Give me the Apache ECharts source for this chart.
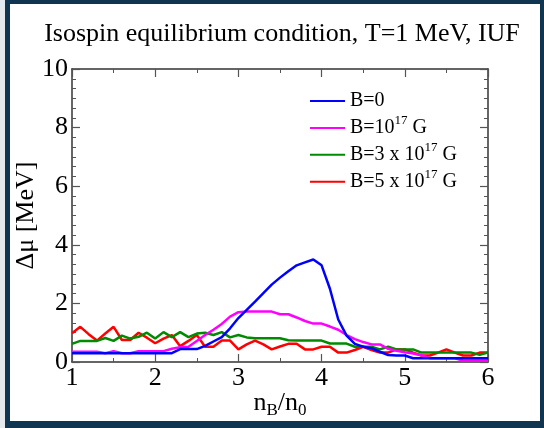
<!DOCTYPE html>
<html>
<head>
<meta charset="utf-8">
<script src="https://cdn.jsdelivr.net/npm/echarts@6/dist/echarts.min.js"></script>
<style>
html,body{margin:0;padding:0;background:#fff;}
#chart{width:544px;height:428px;}
</style>
</head>
<body>
<div id="chart"></div>
<script>
// x grid n_B/n_0
const xValues = [1.0,1.1,1.2,1.3,1.4,1.5,1.6,1.7,1.8,1.9,2.0,2.1,2.2,2.3,2.4,2.5,2.6,2.7,2.8,2.9,3.0,3.1,3.2,3.3,3.4,3.5,3.6,3.7,3.8,3.9,4.0,4.1,4.2,4.3,4.4,4.5,4.6,4.7,4.8,4.9,5.0,5.1,5.2,5.3,5.4,5.5,5.6,5.7,5.8,5.9,6.0];
const seriesNames = ['B=0','B=10^17 G','B=3 x 10^17 G','B=5 x 10^17 G'];
const b0 = [0.30,0.30,0.30,0.30,0.30,0.30,0.30,0.30,0.30,0.30,0.30,0.30,0.30,0.44,0.44,0.44,0.55,0.70,0.85,1.15,1.50,1.78,2.06,2.35,2.64,2.88,3.10,3.30,3.40,3.50,3.30,2.50,1.45,0.90,0.62,0.52,0.47,0.35,0.24,0.22,0.22,0.13,0.13,0.13,0.13,0.13,0.13,0.13,0.13,0.13,0.13];
const b1 = [0.35,0.35,0.35,0.35,0.30,0.37,0.30,0.30,0.37,0.37,0.37,0.37,0.45,0.50,0.52,0.72,0.92,1.10,1.30,1.55,1.70,1.72,1.72,1.72,1.72,1.63,1.63,1.52,1.40,1.31,1.31,1.21,1.10,0.92,0.78,0.68,0.60,0.60,0.45,0.38,0.33,0.29,0.23,0.13,0.13,0.13,0.13,0.05,0.05,0.05,0.05];
const b3 = [0.62,0.72,0.72,0.72,0.82,0.72,0.90,0.80,0.86,1.00,0.80,1.02,0.85,1.02,0.85,0.97,1.00,0.92,1.02,0.84,0.92,0.84,0.81,0.81,0.81,0.81,0.74,0.73,0.73,0.73,0.73,0.63,0.63,0.63,0.52,0.52,0.52,0.43,0.52,0.43,0.43,0.43,0.32,0.32,0.32,0.32,0.32,0.32,0.32,0.25,0.32];
const b5 = [0.98,1.20,0.95,0.73,0.97,1.20,0.75,0.75,1.00,0.83,0.64,0.80,0.92,0.54,0.72,0.92,0.52,0.52,0.73,0.73,0.43,0.60,0.73,0.60,0.43,0.53,0.62,0.62,0.43,0.43,0.52,0.52,0.32,0.32,0.41,0.52,0.41,0.32,0.32,0.43,0.43,0.32,0.22,0.22,0.32,0.43,0.32,0.22,0.22,0.32,0.32];
const xTicks = [1,2,3,4,5,6];
const yTicks = [0,2,4,6,8,10];

const colors = ['#0000ff','#ff00ff','#008a00','#ff0000'];
const allData = [b0,b1,b3,b5];

const serif = '"Liberation Serif","Times New Roman",serif';
const chart = echarts.init(document.getElementById('chart'), null, {renderer:'canvas'});

function pairs(arr){ return xValues.map((x,i)=>[x,arr[i]]); }

const legendRich = {
  t:{fontFamily:serif,fontSize:20,color:'#000',lineHeight:28},
  sup:{fontFamily:serif,fontSize:13,color:'#000',verticalAlign:'top',lineHeight:13}
};
function legendFmt(name){
  return name.replace(/\^(\d+)/, (m,p)=>'{sup|'+p+'}').split(/(\{sup\|\d+\})/).map(s=> s.startsWith('{sup|')? s : (s? '{t|'+s+'}':'')).join('');
}

const axisLineStyle = {color:'#333',width:1.5};
const commonX = {
  type:'value', min:1, max:6, interval:1,
  axisLine:{show:true,onZero:false,lineStyle:axisLineStyle},
  axisTick:{show:true,inside:true,length:8,lineStyle:{color:'#555',width:1.2}},
  minorTick:{show:true,splitNumber:2,length:4,lineStyle:{color:'#555',width:1}},
  splitLine:{show:false}
};
const commonY = {
  type:'value', min:0, max:10, interval:2,
  axisLine:{show:true,onZero:false,lineStyle:axisLineStyle},
  axisTick:{show:true,inside:true,length:8,lineStyle:{color:'#555',width:1.2}},
  minorTick:{show:true,splitNumber:6,length:4,lineStyle:{color:'#555',width:1}},
  splitLine:{show:false}
};

const option = {
  backgroundColor:'#ffffff',
  animation:false,
  title:{
    text:'Isospin equilibrium condition, T=1 MeV, IUF',
    left:277, top:16, textAlign:'center',
    textStyle:{fontFamily:serif,fontSize:26,fontWeight:'normal',color:'#000'}
  },
  legend:{
    orient:'vertical', left:305, top:86, itemGap:2.9,
    itemWidth:35, itemHeight:2,
    icon:'rect',
    data:seriesNames,
    formatter:legendFmt,
    textStyle:{fontFamily:serif,fontSize:20,color:'#000',rich:legendRich}
  },
  grid:{left:72,right:56,top:69,bottom:66,containLabel:false,outerBoundsMode:'none'},
  xAxis:[
    Object.assign({}, commonX, {
      position:'bottom',
      axisLabel:{show:true,fontFamily:serif,fontSize:26,color:'#000',margin:3,
        formatter:v=> xTicks.includes(v)? String(v):''},
      name:'n{sub|B}/n{sub|0}', nameLocation:'middle', nameGap:26, nameMoveOverlap:false,
      nameTextStyle:{fontFamily:serif,fontSize:26,color:'#000',
        rich:{sub:{fontFamily:serif,fontSize:17,color:'#000',verticalAlign:'top',padding:[14,0,0,0]}}}
    }),
    Object.assign({}, commonX, {position:'top', axisLabel:{show:false}})
  ],
  yAxis:[
    Object.assign({}, commonY, {
      position:'left',
      axisLabel:{show:true,fontFamily:serif,fontSize:26,color:'#000',margin:4,
        formatter:v=> yTicks.includes(v)? String(v):''},
      name:'Δμ [MeV]', nameLocation:'middle', nameGap:33, nameRotate:90, nameMoveOverlap:false,
      nameTextStyle:{fontFamily:serif,fontSize:26,color:'#000'}
    }),
    Object.assign({}, commonY, {position:'right', axisLabel:{show:false}})
  ],
  series: seriesNames.map((n,i)=>({
    name:n, type:'line', xAxisIndex:0, yAxisIndex:0,
    data:pairs(allData[i]), showSymbol:false, symbol:'none',
    lineStyle:{color:colors[i],width:2.5}, itemStyle:{color:colors[i]},
    z: 10 - i
  })),
  graphic:[
    {type:'rect', left:0, top:0, shape:{width:544,height:428}, style:{fill:'#e6e9ec'}, z:-10, silent:true},
    {type:'rect', left:5, top:0, shape:{width:539,height:428}, style:{fill:'#0f3550'}, z:-9, silent:true},
    {type:'rect', left:10, top:4, shape:{width:530,height:417}, style:{fill:'#ffffff'}, z:-8, silent:true}
  ]
};
chart.setOption(option);
</script>
</body>
</html>
